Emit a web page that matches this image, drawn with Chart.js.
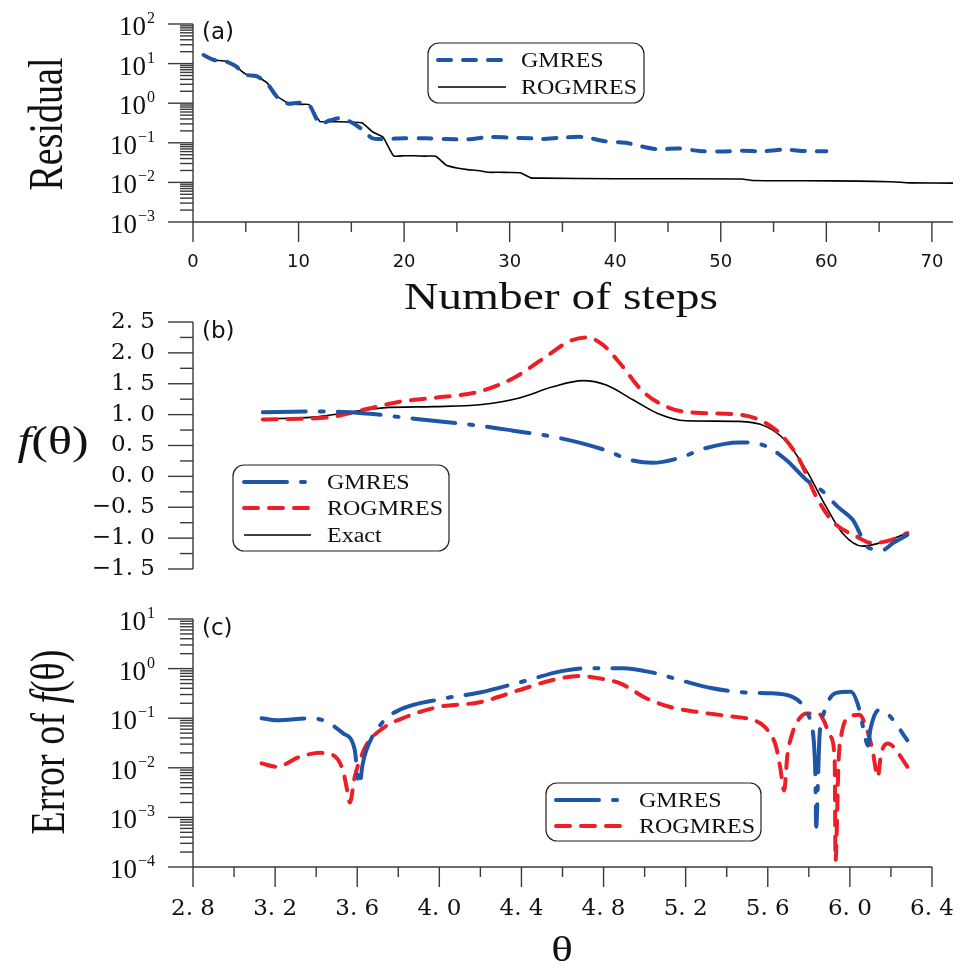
<!DOCTYPE html>
<html>
<head>
<meta charset="utf-8">
<script src="https://cdn.jsdelivr.net/npm/chart.js@4.4.1/dist/chart.umd.min.js"></script>
<style>
  html, body { margin: 0; background: #fff; }
  #wrap { position: relative; width: 961px; height: 969px; overflow: hidden; background: #fff; }
  #wrap canvas { position: absolute; left: 0; }
</style>
</head>
<body>
<div id="wrap">
  <canvas id="chartA" width="961" height="330" style="top:0px"></canvas>
  <canvas id="chartB" width="961" height="290" style="top:310px"></canvas>
  <canvas id="chartC" width="961" height="369" style="top:600px"></canvas>
</div>
<script>
// ---- panel (a): residual vs number of steps ----
const gmresSteps = [1, 2, 3, 4, 5, 6, 7, 8, 9, 10, 11, 12, 13, 14, 15, 16, 17, 18, 20, 22, 24, 26, 28, 30, 32, 33, 35, 37, 39, 41, 42, 44, 46, 48, 50, 52, 54, 56, 58, 60];
const gmresResidual = [16.5, 12.3, 11.6, 8.8, 5.3, 4.8, 3.2, 1.4, 0.98, 1.03, 0.9, 0.31, 0.37, 0.42, 0.33, 0.22, 0.13, 0.125, 0.13, 0.13, 0.125, 0.122, 0.14, 0.135, 0.13, 0.125, 0.135, 0.14, 0.11, 0.1, 0.087, 0.069, 0.072, 0.062, 0.06, 0.063, 0.061, 0.067, 0.062, 0.061];
const rogSteps = [1, 2, 3, 4, 5, 6, 7, 8, 9, 10, 11, 12, 13, 14, 15, 16, 17, 18, 19, 20, 21, 22, 23, 24, 25, 26, 27, 28, 29, 30, 31, 32, 33, 40, 52, 53, 58, 63, 66, 67, 68, 72];
const rogResidual = [16.5, 12.3, 11.6, 8.6, 5.4, 4.8, 3.3, 1.5, 1.0, 0.93, 0.92, 0.35, 0.34, 0.34, 0.33, 0.32, 0.19, 0.14, 0.047, 0.047, 0.047, 0.046, 0.046, 0.027, 0.023, 0.021, 0.02, 0.018, 0.018, 0.0178, 0.0175, 0.013, 0.0128, 0.0124, 0.0122, 0.0112, 0.011, 0.0108, 0.0104, 0.0101, 0.0097, 0.0096];
const stepTicks = [0, 10, 20, 30, 40, 50, 60, 70];
const stepMinorTicks = [5, 15, 25, 35, 45, 55, 65];
const residualPowers = [-3, -2, -1, 0, 1, 2];

// ---- panel (b): f(theta) ----
const fThetaGmres = [3.14, 3.385, 3.564, 3.677, 3.888, 4.197, 4.36, 4.587, 4.813, 4.926, 5.04, 5.17, 5.3, 5.46, 5.575, 5.689, 5.786, 5.867, 5.94, 6.013, 6.094, 6.16, 6.21, 6.28];
const fGmres = [1.04, 1.05, 1.04, 1.01, 0.93, 0.82, 0.74, 0.62, 0.42, 0.27, 0.22, 0.30, 0.46, 0.55, 0.51, 0.27, -0.05, -0.24, -0.49, -0.70, -1.16, -1.19, -1.08, -0.95];
const fThetaRog = [3.14, 3.467, 3.645, 3.807, 3.97, 4.19, 4.36, 4.52, 4.635, 4.716, 4.797, 4.878, 4.99, 5.12, 5.25, 5.46, 5.575, 5.672, 5.754, 5.835, 5.916, 6.03, 6.11, 6.19, 6.28];
const fRog = [0.92, 0.96, 1.09, 1.21, 1.27, 1.37, 1.59, 1.94, 2.19, 2.25, 2.13, 1.84, 1.38, 1.11, 1.03, 1.0, 0.89, 0.65, 0.27, -0.32, -0.73, -0.97, -1.08, -1.04, -0.92];
const fThetaExact = [3.14, 3.385, 3.548, 3.726, 3.97, 4.197, 4.39, 4.553, 4.699, 4.813, 4.943, 5.07, 5.2, 5.46, 5.59, 5.689, 5.786, 5.884, 5.964, 6.062, 6.143, 6.28];
const fExact = [0.93, 0.96, 1.03, 1.11, 1.13, 1.16, 1.27, 1.45, 1.55, 1.48, 1.24, 1.01, 0.90, 0.89, 0.81, 0.57, 0.11, -0.49, -0.92, -1.13, -1.08, -0.92];
const fTicks = [-1.5, -1, -0.5, 0, 0.5, 1, 1.5, 2, 2.5];
const fMinorTicks = [-1.25, -0.75, -0.25, 0.25, 0.75, 1.25, 1.75, 2.25];

// ---- panel (c): error of f(theta) ----
const errThetaGmres = [3.134, 3.207, 3.378, 3.45, 3.53, 3.588, 3.6, 3.612, 3.625, 3.645, 3.726, 3.807, 4.0, 4.197, 4.407, 4.602, 4.732, 4.894, 5.04, 5.17, 5.33, 5.49, 5.6, 5.72, 5.785, 5.81, 5.825, 5.832, 5.836, 5.845, 5.852, 5.873, 5.93, 6.005, 6.046, 6.075, 6.088, 6.1, 6.14, 6.19, 6.28];
const errGmres = [0.1, 0.091, 0.1, 0.085, 0.05, 0.023, 0.008, 0.0045, 0.011, 0.023, 0.085, 0.148, 0.24, 0.33, 0.55, 0.9, 1.02, 1.02, 0.83, 0.59, 0.40, 0.33, 0.32, 0.27, 0.148, 0.08, 0.031, 0.0066, 0.00065, 0.0066, 0.043, 0.126, 0.32, 0.34, 0.15, 0.04, 0.028, 0.06, 0.145, 0.115, 0.036];
const errThetaRog = [3.134, 3.207, 3.32, 3.42, 3.483, 3.53, 3.548, 3.564, 3.588, 3.613, 3.645, 3.726, 3.84, 4.0, 4.197, 4.39, 4.553, 4.683, 4.764, 4.878, 5.01, 5.12, 5.25, 5.41, 5.527, 5.583, 5.64, 5.66, 5.68, 5.695, 5.72, 5.755, 5.79, 5.847, 5.875, 5.905, 5.926, 5.93, 5.945, 5.96, 5.997, 6.046, 6.078, 6.11, 6.136, 6.152, 6.185, 6.21, 6.28];
const errRog = [0.0123, 0.0105, 0.0166, 0.02, 0.018, 0.009, 0.0041, 0.002, 0.0066, 0.0144, 0.029, 0.063, 0.107, 0.17, 0.21, 0.37, 0.59, 0.71, 0.65, 0.51, 0.25, 0.17, 0.135, 0.11, 0.092, 0.068, 0.027, 0.0105, 0.0035, 0.017, 0.05, 0.1, 0.125, 0.125, 0.086, 0.043, 0.0142, 0.000135, 0.014, 0.05, 0.107, 0.117, 0.068, 0.023, 0.0066, 0.019, 0.031, 0.027, 0.0105];
const thetaTicks = [2.8, 3.2, 3.6, 4.0, 4.4, 4.8, 5.2, 5.6, 6.0, 6.4];
const thetaMinorTicks = [3.0, 3.4, 3.8, 4.2, 4.6, 5.0, 5.4, 5.8, 6.2];
const errorPowers = [-4, -3, -2, -1, 0, 1];

const BLUE = '#1f55a6';
const RED = '#ec1f27';
const SERIF = '"Liberation Serif", "Times New Roman", serif';

function pts(xs, ys) {
  return xs.map((x, i) => ({ x: x, y: ys[i] }));
}

function minorLogTicks(powers) {
  const out = [];
  for (let i = 0; i < powers.length - 1; i++) {
    for (let k = 2; k <= 9; k++) out.push(k * Math.pow(10, powers[i]));
  }
  return out;
}

// draws a row of text pieces centred on (cx, cy), stretched sideways like the original figure
function drawParts(ctx, parts, cx, cy, sx, rotated) {
  ctx.save();
  ctx.translate(cx, cy);
  ctx.scale(sx, 1);
  if (rotated) ctx.rotate(-Math.PI / 2);
  let total = 0;
  parts.forEach(p => { ctx.font = p.font; p.w = ctx.measureText(p.text).width; total += p.w; });
  let x = -total / 2;
  ctx.textAlign = 'left';
  ctx.textBaseline = 'middle';
  ctx.fillStyle = '#111';
  parts.forEach(p => { ctx.font = p.font; ctx.fillText(p.text, x, 0); x += p.w; });
  ctx.restore();
}

const panelDecor = {
  id: 'panelDecor',
  afterDraw(chart, args, o) {
    const ctx = chart.ctx;
    const a = chart.chartArea;
    const xs = chart.scales.x;
    const ys = chart.scales.y;
    ctx.save();
    ctx.strokeStyle = '#3a3a3a';
    ctx.lineWidth = 1.4;
    ctx.setLineDash([]);
    const seg = (x1, y1, x2, y2) => { ctx.beginPath(); ctx.moveTo(x1, y1); ctx.lineTo(x2, y2); ctx.stroke(); };

    // axes and tick marks
    seg(a.left, a.top, a.left, a.bottom);
    o.yMajor.forEach(v => { const p = ys.getPixelForValue(v); seg(a.left - 25, p, a.left, p); });
    o.yMinor.forEach(v => { const p = ys.getPixelForValue(v); seg(a.left - 13, p, a.left, p); });
    if (o.xMajor) {
      seg(a.left, a.bottom, a.right, a.bottom);
      o.xMajor.forEach(v => { const p = xs.getPixelForValue(v); seg(p, a.bottom, p, a.bottom + 20); });
      o.xMinor.forEach(v => { const p = xs.getPixelForValue(v); seg(p, a.bottom, p, a.bottom + 10); });
    }

    // 10^n labels on log axes
    if (o.powers) {
      ctx.fillStyle = '#111';
      ctx.textAlign = 'right';
      ctx.textBaseline = 'alphabetic';
      o.powers.forEach(e => {
        const p = ys.getPixelForValue(Math.pow(10, e));
        const ex = e < 0 ? '\u2212' + (-e) : String(e);
        ctx.font = '16px ' + SERIF;
        const w = ctx.measureText(ex).width;
        ctx.fillText(ex, a.left - 38, p - 1);
        ctx.font = '27px ' + SERIF;
        ctx.fillText('10', a.left - 39 - w, p + 11);
      });
    }

    // panel tag
    ctx.fillStyle = '#111';
    ctx.font = '23px "DejaVu Sans"';
    ctx.textAlign = 'left';
    ctx.textBaseline = 'middle';
    ctx.fillText(o.tag.text, o.tag.x, o.tag.y);

    // axis titles
    o.titles.forEach(t => drawParts(ctx, t.parts, t.x, t.y, t.sx, t.rotated));

    // legend
    const L = o.legend;
    ctx.beginPath();
    ctx.roundRect(L.x, L.y, L.w, L.h, 11);
    ctx.strokeStyle = '#222';
    ctx.lineWidth = 1.2;
    ctx.stroke();
    chart.data.datasets.forEach((ds, i) => {
      const ry = L.rowY[i];
      ctx.save();
      ctx.strokeStyle = ds.borderColor;
      ctx.lineWidth = ds.borderWidth;
      ctx.lineCap = ds.borderCapStyle || 'butt';
      ctx.setLineDash(ds.borderDash || []);
      seg(L.sampleX0, ry, L.sampleX1, ry);
      ctx.restore();
      ctx.save();
      ctx.translate(L.textX, ry + 7);
      ctx.scale(1.2, 1);
      ctx.font = '20px ' + SERIF;
      ctx.fillStyle = '#111';
      ctx.textAlign = 'left';
      ctx.textBaseline = 'alphabetic';
      ctx.fillText(ds.label, 0, 0);
      ctx.restore();
    });
    ctx.restore();
  }
};

const common = {
  responsive: false,
  maintainAspectRatio: false,
  animation: false,
  devicePixelRatio: 1,
  elements: { point: { radius: 0 } }
};

const titleFont = '38px ' + SERIF;
const titleItalic = 'italic 38px ' + SERIF;

// (a)
new Chart(document.getElementById('chartA'), {
  type: 'line',
  data: {
    datasets: [
      { label: 'GMRES', data: pts(gmresSteps, gmresResidual), borderColor: BLUE, borderWidth: 4, borderDash: [13, 12], borderCapStyle: 'round', tension: 0.3, pointRadius: 0, fill: false },
      { label: 'ROGMRES', data: pts(rogSteps, rogResidual), borderColor: '#000', borderWidth: 1.6, tension: 0.15, pointRadius: 0, fill: false }
    ]
  },
  options: Object.assign({}, common, {
    layout: { padding: { left: 193, top: 24, right: 8, bottom: 0 } },
    scales: {
      x: {
        type: 'linear', min: 0, max: 72,
        afterBuildTicks: s => { s.ticks = stepTicks.map(v => ({ value: v })); },
        afterFit: s => { s.height = 108; s.paddingLeft = 0; s.paddingRight = 0; },
        grid: { display: false, drawTicks: false },
        border: { display: false },
        ticks: { font: { family: 'DejaVu Sans', size: 18 }, color: '#111', padding: 30, autoSkip: false, maxRotation: 0, minRotation: 0 }
      },
      y: { type: 'logarithmic', min: 1e-3, max: 1e2, display: false }
    },
    plugins: {
      legend: { display: false },
      tooltip: { enabled: false },
      panelDecor: {
        yMajor: residualPowers.map(e => Math.pow(10, e)),
        yMinor: minorLogTicks(residualPowers),
        xMajor: stepTicks, xMinor: stepMinorTicks,
        powers: residualPowers,
        tag: { text: '(a)', x: 202, y: 33 },
        titles: [
          { parts: [{ text: 'Residual', font: titleFont }], x: 50, y: 124, sx: 1.25, rotated: true },
          { parts: [{ text: 'Number of steps', font: titleFont }], x: 561, y: 299, sx: 1.25, rotated: false }
        ],
        legend: { x: 428, y: 43, w: 216, h: 60, rowY: [60, 87], sampleX0: 438, sampleX1: 506, textX: 521 }
      }
    }
  }),
  plugins: [panelDecor]
});

// (b)
new Chart(document.getElementById('chartB'), {
  type: 'line',
  data: {
    datasets: [
      { label: 'GMRES', data: pts(fThetaGmres, fGmres), borderColor: BLUE, borderWidth: 4, borderDash: [43, 14, 4, 14], borderCapStyle: 'round', cubicInterpolationMode: 'monotone', pointRadius: 0, fill: false },
      { label: 'ROGMRES', data: pts(fThetaRog, fRog), borderColor: RED, borderWidth: 4, borderDash: [14, 11], borderCapStyle: 'round', cubicInterpolationMode: 'monotone', pointRadius: 0, fill: false },
      { label: 'Exact', data: pts(fThetaExact, fExact), borderColor: '#000', borderWidth: 1.6, cubicInterpolationMode: 'monotone', pointRadius: 0, fill: false }
    ]
  },
  options: Object.assign({}, common, {
    layout: { padding: { left: 0, top: 12, right: 29, bottom: 31 } },
    scales: {
      x: { type: 'linear', min: 2.8, max: 6.4, display: false },
      y: {
        type: 'linear', min: -1.5, max: 2.5,
        afterBuildTicks: s => { s.ticks = fTicks.map(v => ({ value: v })); },
        afterFit: s => { s.width = 193; s.paddingTop = 0; s.paddingBottom = 0; },
        grid: { display: false, drawTicks: false },
        border: { display: false },
        ticks: {
          font: { family: 'DejaVu Serif', size: 23 }, color: '#111', padding: 38, autoSkip: false,
          callback: v => (v < 0 ? '\u2212' : '') + Math.abs(v).toFixed(1).replace('.', '. ')
        }
      }
    },
    plugins: {
      legend: { display: false },
      tooltip: { enabled: false },
      panelDecor: {
        yMajor: fTicks, yMinor: fMinorTicks,
        tag: { text: '(b)', x: 202, y: 22 },
        titles: [
          { parts: [{ text: 'f', font: 'italic 40px ' + SERIF }, { text: '(\u03b8)', font: '40px ' + SERIF }], x: 53, y: 133, sx: 1.25, rotated: false }
        ],
        legend: { x: 233, y: 155, w: 216, h: 86, rowY: [172, 198, 225], sampleX0: 244, sampleX1: 311, textX: 327 }
      }
    }
  }),
  plugins: [panelDecor]
});

// (c)
new Chart(document.getElementById('chartC'), {
  type: 'line',
  data: {
    datasets: [
      { label: 'GMRES', data: pts(errThetaGmres, errGmres), borderColor: BLUE, borderWidth: 4, borderDash: [43, 14, 4, 14], borderCapStyle: 'round', cubicInterpolationMode: 'monotone', pointRadius: 0, fill: false },
      { label: 'ROGMRES', data: pts(errThetaRog, errRog), borderColor: RED, borderWidth: 4, borderDash: [14, 11], borderCapStyle: 'round', cubicInterpolationMode: 'monotone', pointRadius: 0, fill: false }
    ]
  },
  options: Object.assign({}, common, {
    layout: { padding: { left: 193, top: 19, right: 29, bottom: 0 } },
    scales: {
      x: {
        type: 'linear', min: 2.8, max: 6.4,
        afterBuildTicks: s => { s.ticks = thetaTicks.map(v => ({ value: v })); },
        afterFit: s => { s.height = 102; s.paddingLeft = 0; s.paddingRight = 0; },
        grid: { display: false, drawTicks: false },
        border: { display: false },
        ticks: {
          font: { family: 'DejaVu Serif', size: 23 }, color: '#111', padding: 28, autoSkip: false, maxRotation: 0, minRotation: 0,
          callback: v => v.toFixed(1).replace('.', '. ')
        }
      },
      y: { type: 'logarithmic', min: 1e-4, max: 1e1, display: false }
    },
    plugins: {
      legend: { display: false },
      tooltip: { enabled: false },
      panelDecor: {
        yMajor: errorPowers.map(e => Math.pow(10, e)),
        yMinor: minorLogTicks(errorPowers),
        xMajor: thetaTicks, xMinor: thetaMinorTicks,
        powers: errorPowers,
        tag: { text: '(c)', x: 202, y: 29 },
        titles: [
          { parts: [{ text: 'Error of ', font: titleFont }, { text: 'f', font: titleItalic }, { text: '(\u03b8)', font: titleFont }], x: 52, y: 142, sx: 1.25, rotated: true },
          { parts: [{ text: '\u03b8', font: '36px ' + SERIF }], x: 562, y: 352, sx: 1.25, rotated: false }
        ],
        legend: { x: 546, y: 183, w: 215, h: 58, rowY: [200, 226], sampleX0: 556, sampleX1: 621, textX: 639 }
      }
    }
  }),
  plugins: [panelDecor]
});
</script>
</body>
</html>
